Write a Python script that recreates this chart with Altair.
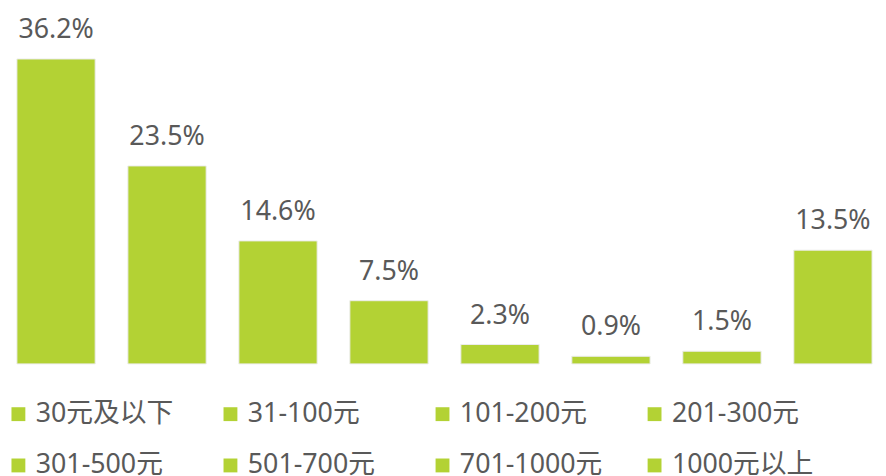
import altair as alt
import pandas as pd

categories = ["30元及以下", "31-100元", "101-200元", "201-300元",
              "301-500元", "501-700元", "701-1000元", "1000元以上"]
values = [36.2, 23.5, 14.6, 7.5, 2.3, 0.9, 1.5, 13.5]
labels = [f"{v}%" for v in values]

GREEN = "#B3D234"
FONT = "Noto Sans, Noto Sans CJK SC"
TEXT = "#595959"

df = pd.DataFrame({"cat": categories, "val": values, "label": labels})

x = alt.X("cat:N", sort=categories, axis=None,
          scale=alt.Scale(paddingInner=0.295, paddingOuter=0))
y = alt.Y("val:Q", axis=None, scale=alt.Scale(domain=[0, 40], nice=False))

bars = alt.Chart(df).mark_bar(stroke="#ececec", strokeWidth=1).encode(
    x=x, y=y,
    color=alt.Color("cat:N", sort=categories,
                    scale=alt.Scale(domain=categories, range=[GREEN] * 8),
                    legend=alt.Legend(
                        title=None, orient="none", legendX=-12, legendY=377,
                        direction="horizontal", columns=4, gridAlign="all",
                        columnPadding=39, rowPadding=24,
                        symbolType="square", symbolSize=196,
                        symbolStrokeWidth=0, labelOffset=4,
                        labelFont=FONT, labelFontSize=27, labelColor=TEXT,
                        labelLimit=300)),
)

text = alt.Chart(df).mark_text(
    dy=-21, baseline="alphabetic", font=FONT, fontSize=27, color=TEXT
).encode(x=x, y=y, text="label:N")

chart = (bars + text).properties(
    width=863, height=340,
    padding={"left": 9, "top": 17, "right": 6, "bottom": 111},
    autosize=alt.AutoSizeParams(type="none"),
).configure_view(stroke=None)

chart.save("out.html", embed_options={"renderer": "svg", "actions": False})
